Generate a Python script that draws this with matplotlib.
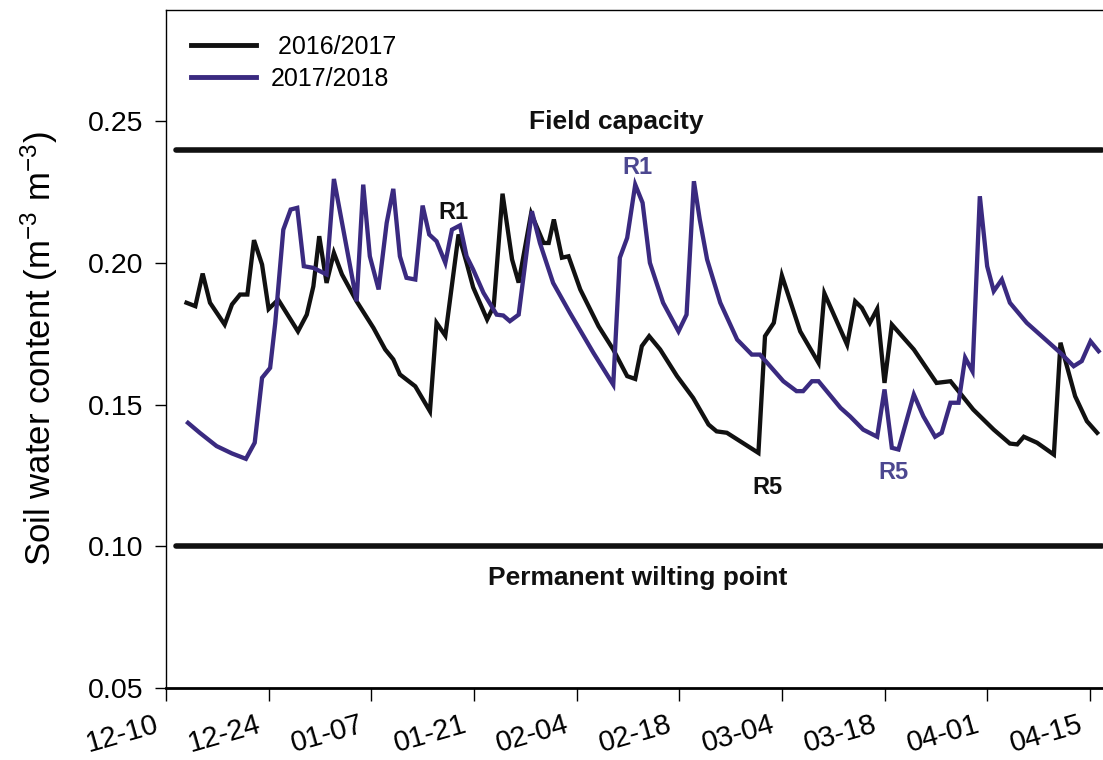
import matplotlib
matplotlib.use("Agg")
import matplotlib.pyplot as plt
import matplotlib.transforms as mtransforms

plt.rcParams["font.family"] = ["Liberation Sans", "DejaVu Sans"]
plt.rcParams["mathtext.default"] = "regular"

# days since 12-10, volumetric soil water content (m3 m-3)
days_1617 = [2.8, 4.0, 5.0, 6.0, 8.0, 9.0, 10.1, 11.1, 12.0, 13.1, 14.0, 15.3,
             18.0, 19.2, 20.1, 20.9, 21.9, 22.9, 24.0, 26.0, 28.3, 29.9, 31.0,
             31.9, 32.8, 34.0, 36.0, 36.9, 38.1, 39.9, 41.0, 41.9, 43.8, 44.7,
             45.9, 47.2, 48.1, 49.8, 51.5, 52.2, 52.9, 54.0, 54.9, 56.5, 59.0,
             61.0, 62.9, 64.0, 64.9, 65.9, 67.4, 69.7, 71.9, 74.0, 75.1, 76.5,
             80.8, 81.7, 82.9, 84.0, 86.5, 89.0, 89.8, 92.9, 94.0, 94.9, 96.0,
             97.0, 98.0, 99.0, 102.0, 105.1, 107.0, 110.1, 112.9, 115.1, 116.1,
             117.0, 118.8, 121.1, 122.0, 124.0, 125.6, 127.0]
swc_1617 = [0.1860, 0.1848, 0.1963, 0.1860, 0.1783, 0.1854, 0.1889, 0.1889,
            0.2081, 0.1995, 0.1838, 0.1871, 0.1759, 0.1818, 0.1918, 0.2095,
            0.1930, 0.2036, 0.1960, 0.1865, 0.1771, 0.1695, 0.1660, 0.1607,
            0.1589, 0.1565, 0.1477, 0.1789, 0.1744, 0.2101, 0.2001, 0.1914,
            0.1801, 0.1848, 0.2245, 0.2013, 0.1931, 0.2175, 0.2071, 0.2071,
            0.2154, 0.2019, 0.2024, 0.1907, 0.1777, 0.1695, 0.1601, 0.1591,
            0.1707, 0.1742, 0.1695, 0.1601, 0.1524, 0.1430, 0.1406, 0.1401,
            0.1330, 0.1742, 0.1789, 0.1956, 0.1759, 0.1648, 0.1893, 0.1712,
            0.1865, 0.1842, 0.1789, 0.1838, 0.1577, 0.1783, 0.1695, 0.1577,
            0.1583, 0.1483, 0.1412, 0.1363, 0.1360, 0.1387, 0.1366, 0.1324,
            0.1719, 0.1530, 0.1442, 0.1401]

days_1718 = [3.0, 4.6, 6.9, 9.0, 10.9, 12.1, 13.1, 14.2, 14.9, 16.0, 17.0, 17.9,
             18.8, 20.1, 21.9, 22.9, 26.0, 26.9, 27.8, 29.0, 30.1, 31.0, 31.9,
             32.8, 34.0, 35.0, 35.9, 36.9, 38.1, 39.0, 40.1, 41.0, 41.9, 43.3,
             45.1, 46.0, 46.9, 48.1, 49.9, 51.0, 52.8, 55.1, 58.3, 61.0, 61.9,
             62.9, 64.0, 65.0, 66.0, 67.8, 69.9, 71.0, 72.0, 72.8, 73.8, 75.6,
             77.9, 79.9, 81.0, 82.4, 84.2, 86.0, 86.9, 88.1, 89.0, 92.0, 93.3,
             95.1, 97.0, 98.0, 99.0, 99.9, 102.0, 103.3, 104.9, 105.8, 107.0,
             108.1, 109.0, 110.0, 111.0, 112.0, 112.9, 114.0, 115.1, 117.4,
             119.7, 122.0, 123.8, 124.9, 126.1, 127.2]
swc_1718 = [0.1436, 0.1401, 0.1354, 0.1328, 0.1309, 0.1366, 0.1595, 0.1630,
            0.1789, 0.2118, 0.2189, 0.2195, 0.1989, 0.1983, 0.1960, 0.2297,
            0.1865, 0.2277, 0.2024, 0.1907, 0.2142, 0.2262, 0.2024, 0.1948,
            0.1942, 0.2203, 0.2101, 0.2077, 0.2001, 0.2118, 0.2133, 0.2024,
            0.1977, 0.1895, 0.1818, 0.1815, 0.1795, 0.1818, 0.2183, 0.2071,
            0.1930, 0.1824, 0.1683, 0.1571, 0.2019, 0.2089, 0.2277, 0.2213,
            0.2001, 0.1860, 0.1759, 0.1818, 0.2289, 0.2154, 0.2013, 0.1860,
            0.1730, 0.1677, 0.1677, 0.1636, 0.1583, 0.1548, 0.1548, 0.1583,
            0.1583, 0.1489, 0.1459, 0.1412, 0.1387, 0.1554, 0.1348, 0.1342,
            0.1536, 0.1459, 0.1387, 0.1401, 0.1507, 0.1507, 0.1666, 0.1618,
            0.2236, 0.1989, 0.1901, 0.1942, 0.1860, 0.1789, 0.1736, 0.1683,
            0.1636, 0.1654, 0.1724, 0.1689]

field_capacity = 0.24
wilting_point = 0.10

tick_days = [0, 14, 28, 42, 56, 70, 84, 98, 112, 126]
tick_labels = ["12-10", "12-24", "01-07", "01-21", "02-04",
               "02-18", "03-04", "03-18", "04-01", "04-15"]

black = "#111111"
purple = "#3a2a80"
purple_txt = "#4c4790"

fig = plt.figure(figsize=(11.03, 7.6), dpi=100)
ax = fig.add_axes([0.1505, 0.0947, 0.8495, 0.892])

ax.plot(days_1617, swc_1617, color=black, lw=3.1, label=" 2016/2017",
        solid_joinstyle="miter")
ax.plot(days_1718, swc_1718, color=purple, lw=3.1, label="2017/2018",
        solid_joinstyle="miter")

ax.hlines([field_capacity, wilting_point], 1.3, 127.6, color=black, lw=4,
          capstyle="round")

ax.text(61.4, 0.2497, "Field capacity", ha="center", va="center",
        fontsize=19, fontweight="bold", color=black)
ax.text(64.3, 0.0890, "Permanent wilting point", ha="center", va="center",
        fontsize=19, fontweight="bold", color=black)
ax.text(39.2, 0.2178, "R1", ha="center", va="center", fontsize=17,
        fontweight="bold", color=black)
ax.text(64.3, 0.2337, "R1", ha="center", va="center", fontsize=17,
        fontweight="bold", color=purple_txt)
ax.text(82.0, 0.1208, "R5", ha="center", va="center", fontsize=17,
        fontweight="bold", color=black)
ax.text(99.2, 0.1261, "R5", ha="center", va="center", fontsize=17,
        fontweight="bold", color=purple_txt)

ax.set_xlim(0, 127.8)
ax.set_ylim(0.05, 0.2893)
ax.set_yticks([0.05, 0.10, 0.15, 0.20, 0.25])
ax.set_yticklabels(["0.05", "0.10", "0.15", "0.20", "0.25"])
ax.set_xticks(tick_days)
ax.set_xticklabels(tick_labels, rotation=16, ha="right", va="top",
                   rotation_mode="anchor")

ax.tick_params(axis="y", direction="out", length=8, width=1, pad=8,
               labelsize=20.5)
ax.tick_params(axis="x", direction="out", length=9, width=1, pad=7,
               labelsize=21)
shift = mtransforms.ScaledTranslation(-0.12, 0, fig.dpi_scale_trans)
for lbl in ax.get_xticklabels():
    lbl.set_transform(lbl.get_transform() + shift)

ax.set_ylabel("Soil water content (m$^{-3}$ m$^{-3}$)", fontsize=25,
              labelpad=20)

ax.spines["right"].set_visible(False)
ax.spines["left"].set_linewidth(1)
ax.spines["top"].set_linewidth(1)
ax.spines["bottom"].set_linewidth(2)

ax.legend(loc="upper left", bbox_to_anchor=(0.0267, 0.963), frameon=False,
          fontsize=18, handlelength=2.6, handletextpad=0.6, labelspacing=0.3,
          borderaxespad=0, borderpad=0)
for line in ax.get_legend().get_lines():
    line.set_linewidth(3.5)

fig.savefig("out.png", dpi=100)
plt.close(fig)
